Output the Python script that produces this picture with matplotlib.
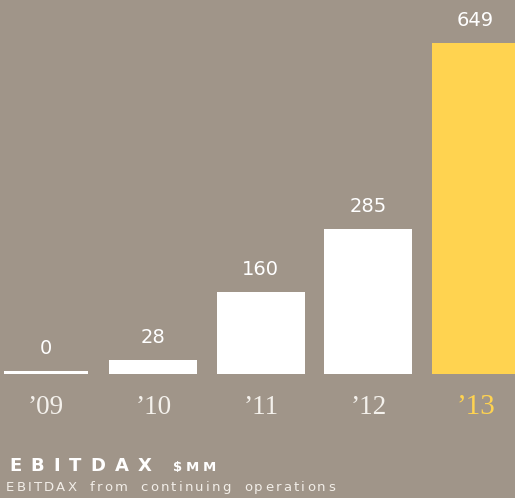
import matplotlib
matplotlib.use("Agg")
import matplotlib.pyplot as plt

years = ["\u201909", "\u201910", "\u201911", "\u201912", "\u201913"]
values = [0, 28, 160, 285, 649]
bar_colors = ["#FFFFFF", "#FFFFFF", "#FFFFFF", "#FFFFFF", "#FFD350"]
year_colors = ["#F4F1EC", "#F4F1EC", "#F4F1EC", "#F4F1EC", "#FFD350"]
title = "EBITDAX"
unit = "$MM"
subtitle = "EBITDAX from continuing operations"

BG = "#A09589"
W, H = 515, 498
fig = plt.figure(figsize=(W / 100, H / 100), dpi=100, facecolor=BG)
ax = fig.add_axes([0, 0, 1, 1])
ax.set_facecolor(BG)
for s in ax.spines.values():
    s.set_visible(False)
ax.set_xticks([])
ax.set_yticks([])

# pixel mapping
x0_px, step_px = 46.0, 107.4
ax.set_xlim(-x0_px / step_px, (W - x0_px) / step_px)
base_px, top_px = 374.0, 43.0
ppu = (base_px - top_px) / 649.0
ax.set_ylim(-(H - base_px) / ppu, base_px / ppu)

bw = 88 / step_px
for i, v in enumerate(values):
    if v == 0:
        ax.bar(i, 3 / ppu, width=84 / step_px, bottom=0, color=bar_colors[i], linewidth=0)
        lab_y = 3 / ppu + 13 / ppu
    else:
        ax.bar(i, v, width=bw, color=bar_colors[i], linewidth=0)
        lab_y = v + 13 / ppu
    ax.text(i, lab_y, str(v), ha="center", va="bottom",
            color="#FFFFFF", fontsize=14, family="DejaVu Sans")
    ax.text(i, -(407 - base_px) / ppu, years[i], ha="center", va="center",
            color=year_colors[i], fontsize=19.5 if i < 4 else 21, family="Liberation Serif")

fig.canvas.draw()
renderer = fig.canvas.get_renderer()


def spaced(x_px, y_px, s, track_px, **kw):
    x = x_px
    for ch in s:
        if ch == " ":
            t = fig.text(x / W, 1 - y_px / H, "n", alpha=0, **kw)
        else:
            t = fig.text(x / W, 1 - y_px / H, ch, **kw)
        bb = t.get_window_extent(renderer)
        x += bb.width + track_px
    return x


end = spaced(9, 466, title, 9.2, color="#FFFFFF", fontsize=13, fontweight="bold",
             family="DejaVu Sans", va="center", ha="left")
spaced(173, 467, unit, 3.5, color="#FFFFFF", fontsize=9.5, fontweight="bold",
       family="DejaVu Sans", va="center", ha="left")
spaced(6, 487, subtitle, 2.2, color="#F2EEE8", fontsize=9.5,
       family="DejaVu Sans", va="center", ha="left")

fig.savefig("out.png", dpi=100, facecolor=BG)
